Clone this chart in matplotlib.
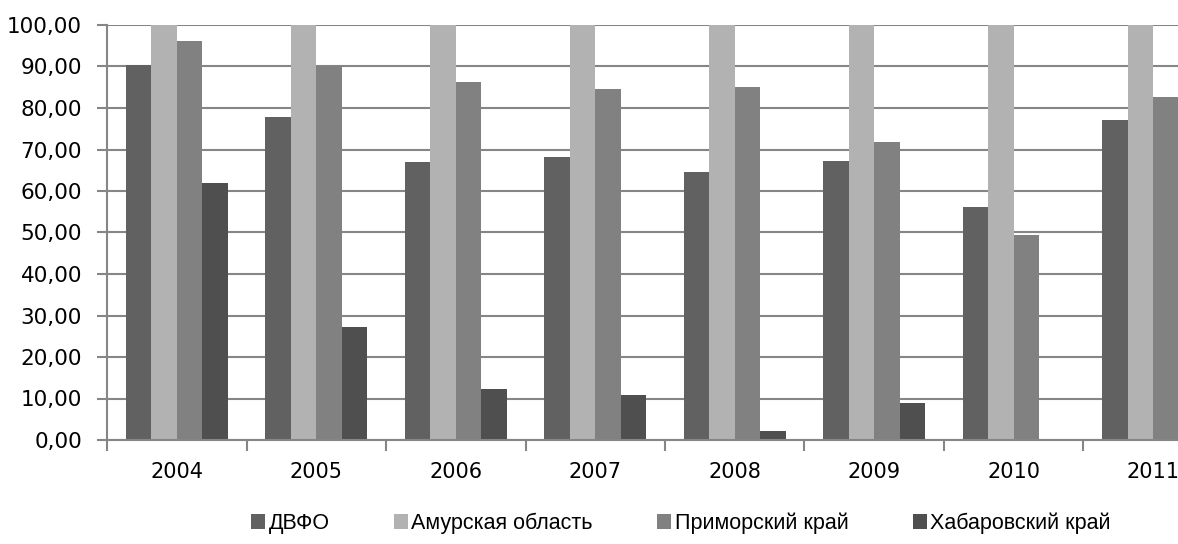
import matplotlib.pyplot as plt
import numpy as np

plt.rcParams['font.family'] = ['DejaVu Sans']

# data
years = ["2004", "2005", "2006", "2007", "2008", "2009", "2010", "2011"]
series_names = ["ДВФО", "Амурская область", "Приморский край", "Хабаровский край"]
dvfo = [90.4, 77.8, 67.0, 68.2, 64.6, 67.2, 56.1, 77.1]
amur = [100.0, 100.0, 100.0, 100.0, 100.0, 100.0, 100.0, 100.0]
primorye = [96.1, 90.0, 86.3, 84.6, 85.1, 71.8, 49.4, 82.7]
khabarovsk = [61.9, 27.2, 12.3, 10.8, 2.2, 8.9, 0.0, 0.0]
colors = ["#616161", "#b2b2b2", "#818181", "#4f4f4f"]

fig = plt.figure(figsize=(11.78, 5.44), dpi=100)
# axes runs past the right edge, like the cropped original
ax = fig.add_axes([107 / 1178, 104 / 544, 1116 / 1178, 415 / 544])

x = np.arange(len(years))
w = 0.183
for i, (vals, name, c) in enumerate(zip([dvfo, amur, primorye, khabarovsk], series_names, colors)):
    ax.bar(x + (i - 1.5) * w, vals, width=w, color=c, label=name, zorder=2)

ax.set_xlim(-0.5, len(years) - 0.5)
ax.set_ylim(0, 100)
ax.set_yticks(np.arange(0, 101, 10))
ax.set_yticklabels([f"{v:.2f}".replace(".", ",") for v in np.arange(0, 101, 10)], fontsize=15.5)
ax.yaxis.grid(True, color="#868686", linewidth=1.5, zorder=0)
ax.set_axisbelow(True)

ax.set_xticks(x)
ax.set_xticklabels(years, fontsize=15)
ax.tick_params(axis="x", length=0, pad=16)
ax.set_xticks(np.arange(-0.5, len(years)), minor=True)
ax.tick_params(axis="x", which="minor", length=8, width=1.5, color="#868686", direction="out")
ax.tick_params(axis="y", length=7, width=1.5, color="#868686", pad=11)

for s in ["top", "right"]:
    ax.spines[s].set_visible(False)
for s in ["left", "bottom"]:
    ax.spines[s].set_color("#868686")
    ax.spines[s].set_linewidth(1.5)

fig.legend(loc="center", bbox_to_anchor=(0.578, 0.038), ncol=4, frameon=False,
           prop={"family": "Liberation Sans", "size": 15.5},
           handlelength=0.65, handleheight=0.65, handletextpad=0.15,
           columnspacing=3.0)

fig.savefig("out.png", dpi=100)
